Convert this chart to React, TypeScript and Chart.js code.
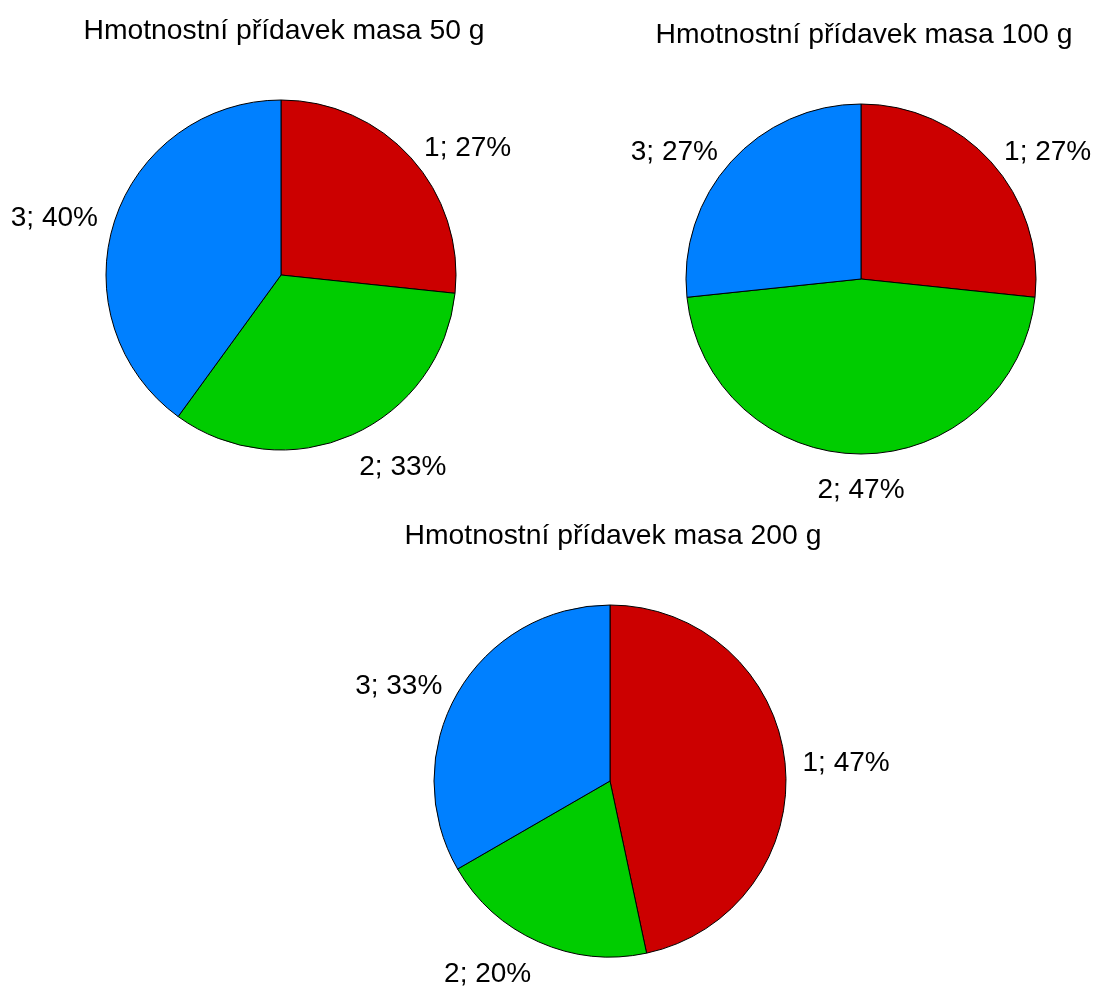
import React, { useEffect, useRef } from "react";
import { Chart, registerables } from "chart.js";

Chart.register(...registerables);

const categories = ["1", "2", "3"];
const masa50 = [4, 5, 6];
const masa100 = [4, 7, 4];
const masa200 = [7, 3, 5];
const titles = [
  "Hmotnostní přídavek masa 50 g",
  "Hmotnostní přídavek masa 100 g",
  "Hmotnostní přídavek masa 200 g",
];
const sliceColors = ["#CC0000", "#00CC00", "#0080FF"];

const W = 1096;
const H = 986;
const FONT = '28px "Liberation Sans", Arial, sans-serif';
const TITLE_FONT = '28.3px "Liberation Sans", Arial, sans-serif';

const pies = [
  { values: masa50, title: titles[0], cx: 281, cy: 275, r: 175 },
  { values: masa100, title: titles[1], cx: 861, cy: 279, r: 175 },
  { values: masa200, title: titles[2], cx: 610, cy: 781, r: 176 },
];

const labelPlugin = {
  id: "pieLabels",
  afterDraw(chart: any) {
    const ctx = chart.ctx;
    const meta = chart.getDatasetMeta(0);
    const data = chart.data.datasets[0].data as number[];
    const total = data.reduce((a, b) => a + b, 0);
    const title = chart.options.plugins.pieTitle?.text || "";
    ctx.save();
    ctx.font = FONT;
    ctx.fillStyle = "#000";
    let cx = 0, cy = 0, R = 0;
    meta.data.forEach((arc: any, i: number) => {
      const p = arc.getProps(["x", "y", "startAngle", "endAngle", "outerRadius"], true);
      cx = p.x; cy = p.y; R = p.outerRadius;
      const mid = (p.startAngle + p.endAngle) / 2;
      const dx = Math.cos(mid);
      const dy = Math.sin(mid);
      const d = 1.1 * p.outerRadius;
      const px = p.x + dx * d;
      let py = p.y + dy * d;
      if (dy > 0) py += 16 * dy;
      ctx.textAlign = Math.abs(dx) < 0.05 ? "center" : dx > 0 ? "left" : "right";
      ctx.textBaseline = "alphabetic";
      const pct = Math.round((data[i] / total) * 100);
      ctx.fillText(`${chart.data.labels[i]}; ${pct}%`, px, py + 10);
    });
    ctx.font = TITLE_FONT;
    ctx.textAlign = "center";
    ctx.fillText(title, cx + 3, cy - R - 61);
    ctx.restore();
  },
};

function PieCanvas({ values, title, cx, cy, r }: any) {
  const ref = useRef<HTMLCanvasElement>(null);
  useEffect(() => {
    if (!ref.current) return;
    const half = 200;
    const chart = new Chart(ref.current, {
      type: "pie",
      data: {
        labels: categories,
        datasets: [
          {
            data: values,
            backgroundColor: sliceColors,
            borderColor: "#000000",
            borderWidth: 1,
            hoverOffset: 0,
          },
        ],
      },
      options: {
        responsive: false,
        maintainAspectRatio: false,
        animation: false,
        devicePixelRatio: 1,
        radius: r,
        layout: {
          padding: {
            left: cx - half,
            right: W - cx - half,
            top: cy - half,
            bottom: H - cy - half,
          },
        },
        plugins: {
          legend: { display: false },
          tooltip: { enabled: false },
          title: { display: false },
          pieTitle: { text: title },
        } as any,
      } as any,
      plugins: [labelPlugin],
    });
    return () => chart.destroy();
  }, [values, title, cx, cy, r]);
  return (
    <canvas
      ref={ref}
      width={W}
      height={H}
      style={{ position: "absolute", left: 0, top: 0, width: W, height: H }}
    />
  );
}

export default function App() {
  return (
    <div
      style={{
        position: "absolute",
        left: 0,
        top: 0,
        width: W,
        height: H,
        background: "#fff",
      }}
    >
      {pies.map((p, i) => (
        <PieCanvas key={i} {...p} />
      ))}
    </div>
  );
}
